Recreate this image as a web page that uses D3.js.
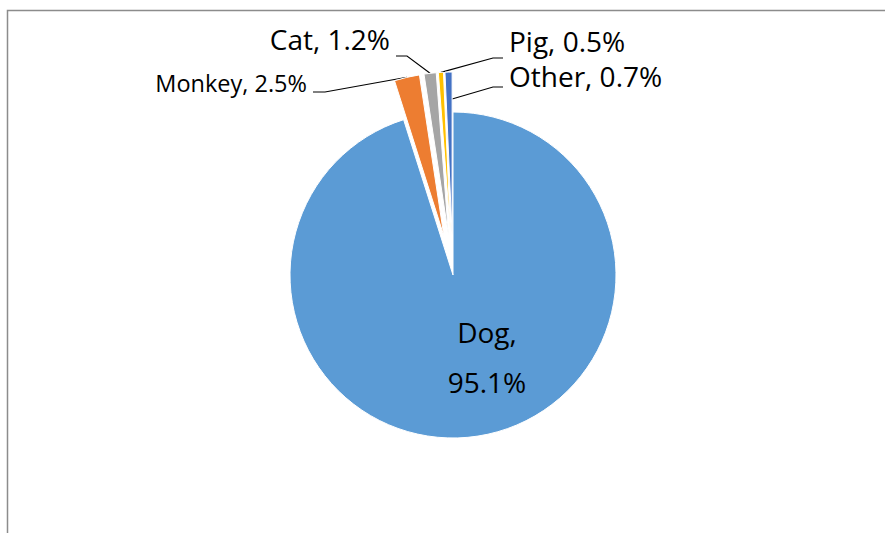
<!DOCTYPE html>
<html>
<head>
<meta charset="utf-8">
<script src="https://cdn.jsdelivr.net/npm/d3@7"></script>
<style>
  html, body { margin: 0; padding: 0; background: #fff; }
  svg { display: block; font-family: "Open Sans", "Noto Sans", sans-serif; }
</style>
</head>
<body>
<svg id="chart" width="885" height="533"></svg>
<script>
// ---- data ----
const categories = ["Dog", "Monkey", "Cat", "Pig", "Other"];
const values = [95.1, 2.5, 1.2, 0.5, 0.7];
const colors = ["#5B9BD5", "#ED7D31", "#A5A5A5", "#FFC000", "#4472C4"];
const exploded = [false, true, true, true, true];

// ---- layout ----
const W = 885, H = 533;
const cx = 453, cy = 275, R = 163, explode = 40;
const svg = d3.select("#chart");

// frame
svg.append("path")
  .attr("d", `M7.5,${H + 2} L7.5,10.5 L${W + 2},10.5`)
  .attr("fill", "none").attr("stroke", "#8c8c8c").attr("stroke-width", 1.5);

const pie = d3.pie().sort(null).value(d => d.v);
const arcs = pie(categories.map((c, i) => ({ c, v: values[i], i })));
const arcGen = d3.arc().innerRadius(0).outerRadius(R);

function offsetOf(a) {
  if (!exploded[a.data.i]) return [0, 0];
  const m = (a.startAngle + a.endAngle) / 2;
  return [explode * Math.sin(m), -explode * Math.cos(m)];
}
function polar(a, ang, r) {
  const o = offsetOf(a);
  return [cx + o[0] + r * Math.sin(ang), cy + o[1] - r * Math.cos(ang)];
}

// label layout (position of text + leader geometry)
const labelLayout = {
  Dog:    { lines: ["Dog,", "95.1%"], x: 487, y: 343, dy: 50, anchor: "middle", size: 28 },
  Monkey: { x: 307, y: 92, anchor: "end", size: 23.5, leader: { elbow: [[313, 92], [325, 92]], target: "mid" } },
  Cat:    { x: 390, y: 50, anchor: "end", size: 28, leader: { elbow: [[396, 56], [407, 56]], target: "mid" } },
  Pig:    { x: 509, y: 52, anchor: "start", size: 28, leader: { elbow: [[503, 58], [493, 58]], target: "mid" } },
  Other:  { x: 509, y: 87, anchor: "start", size: 28, leader: { elbow: [[503, 87], [493, 87]], target: "endEdge" } }
};

// leader lines (under the slices)
const leaders = svg.append("g");
arcs.forEach(a => {
  const L = labelLayout[a.data.c];
  if (!L.leader) return;
  let t;
  if (L.leader.target === "mid") t = polar(a, (a.startAngle + a.endAngle) / 2, R);
  else t = polar(a, a.endAngle, R * 0.835);
  const pts = L.leader.elbow.concat([t]);
  leaders.append("path")
    .attr("d", d3.line()(pts))
    .attr("fill", "none").attr("stroke", "#000").attr("stroke-width", 1.1);
});

// slices
svg.append("g").selectAll("path").data(arcs).join("path")
  .attr("transform", a => { const o = offsetOf(a); return `translate(${cx + o[0]},${cy + o[1]})`; })
  .attr("d", arcGen)
  .attr("fill", a => colors[a.data.i])
  .attr("stroke", "#fff").attr("stroke-width", 1);

// labels
const lg = svg.append("g").attr("fill", "#000");
arcs.forEach(a => {
  const c = a.data.c, L = labelLayout[c];
  const lines = L.lines || [`${c}, ${d3.format(".1f")(a.data.v)}%`];
  lines.forEach((s, k) => {
    lg.append("text")
      .attr("x", L.x).attr("y", L.y + k * (L.dy || 0))
      .attr("text-anchor", L.anchor)
      .attr("font-size", L.size)
      .text(s);
  });
});
</script>
</body>
</html>
